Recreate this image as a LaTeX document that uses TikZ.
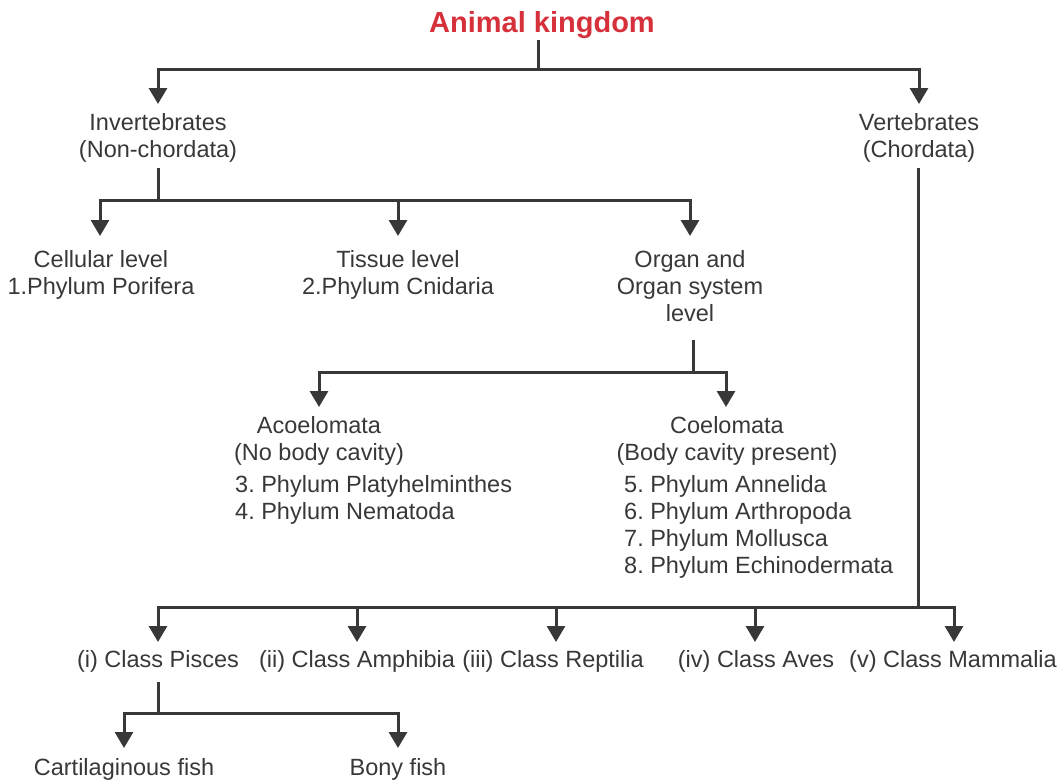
\documentclass[tikz,border=0pt]{standalone}
\usepackage{fontspec}
\setmainfont{Liberation Sans}
\usetikzlibrary{arrows.meta}
\frenchspacing
\definecolor{ink}{HTML}{383838}
\definecolor{titlered}{HTML}{D6303B}
\newcommand{\ctr}[1]{\begin{tabular}[t]{@{}c@{}}#1\end{tabular}}
\newcommand{\lft}[1]{\begin{tabular}[t]{@{}l@{}}#1\end{tabular}}
\tikzset{
  txt/.style={inner sep=0pt, text=ink, anchor=base, font=\fontsize{23.5}{27}\selectfont},
  lst/.style={inner sep=0pt, text=ink, anchor=base west, font=\fontsize{23.5}{27}\selectfont},
  ttl/.style={inner sep=0pt, text=titlered, anchor=base, font=\fontsize{29}{33}\selectfont\bfseries},
  ln/.style={draw=ink, line width=3pt},
  arr/.style={draw=ink, line width=3pt, -{Triangle[width=18pt,length=16pt]}}
}
\begin{document}
\begin{tikzpicture}[x=1pt,y=-1pt]
\useasboundingbox (0,0) rectangle (1061,782);
% title
\node[ttl] (title) at (542,32) {Animal kingdom};
\coordinate (s0) at (538,40);
\coordinate (j0) at (538,69);
\coordinate (tInv) at (158,104);
\coordinate (tVer) at (919,104);
\draw[ln] (s0) -- (j0);
\draw[arr] (j0) -| (tInv);
\draw[arr] (j0) -| (tVer);
% level 1
\node[txt] (inv) at (158,130) {\ctr{Invertebrates\\(Non-chordata)}};
\node[txt] (ver) at (919,130) {\ctr{Vertebrates\\(Chordata)}};
% invertebrate branch
\coordinate (s1) at (158,168);
\coordinate (j1) at (158,200);
\coordinate (tCel) at (100,236);
\coordinate (tTis) at (398,236);
\coordinate (tOrg) at (690,236);
\draw[ln] (s1) -- (j1);
\draw[arr] (j1) -| (tCel);
\draw[arr] (j1) -| (tTis);
\draw[arr] (j1) -| (tOrg);
\node[txt] (cel) at (101,267) {\ctr{Cellular level\\1.Phylum Porifera}};
\node[txt] (tis) at (398,267) {\ctr{Tissue level\\2.Phylum Cnidaria}};
\node[txt] (org) at (690,267) {\ctr{Organ and\\Organ system\\level}};
% organ branch
\coordinate (s2) at (693,340);
\coordinate (j2) at (693,372);
\coordinate (tAco) at (319,407);
\coordinate (tCoe) at (726,407);
\draw[ln] (s2) -- (j2);
\draw[arr] (j2) -| (tAco);
\draw[arr] (j2) -| (tCoe);
\node[txt] (aco) at (319,433) {\ctr{Acoelomata\\(No body cavity)}};
\node[lst] (acol) at (235,492) {\lft{3. Phylum Platyhelminthes\\4. Phylum Nematoda}};
\node[txt] (coe) at (727,433) {\ctr{Coelomata\\(Body cavity present)}};
\node[lst] (coel) at (624,492) {\lft{5. Phylum Annelida\\6. Phylum Arthropoda\\7. Phylum Mollusca\\8. Phylum Echinodermata}};
% vertebrate branch
\coordinate (s3) at (918,168);
\coordinate (j3) at (918,607);
\coordinate (tPis) at (158,642);
\coordinate (tAmp) at (357,642);
\coordinate (tRep) at (556,642);
\coordinate (tAve) at (755,642);
\coordinate (tMam) at (954,642);
\draw[ln] (s3) -- (j3);
\draw[arr] (j3) -| (tPis);
\draw[arr] (j3) -| (tAmp);
\draw[arr] (j3) -| (tRep);
\draw[arr] (j3) -| (tAve);
\draw[arr] (j3) -| (tMam);
\node[txt] (pis) at (158,667) {(i) Class Pisces};
\node[txt] (amp) at (357,667) {(ii) Class Amphibia};
\node[txt] (rep) at (553,667) {(iii) Class Reptilia};
\node[txt] (ave) at (756,667) {(iv) Class Aves};
\node[txt] (mam) at (953,667) {(v) Class Mammalia};
% pisces branch
\coordinate (s4) at (158,682);
\coordinate (j4) at (158,713);
\coordinate (tCar) at (124,748);
\coordinate (tBon) at (398,748);
\draw[ln] (s4) -- (j4);
\draw[arr] (j4) -| (tCar);
\draw[arr] (j4) -| (tBon);
\node[txt] (car) at (124,775) {Cartilaginous fish};
\node[txt] (bon) at (398,775) {Bony fish};
\end{tikzpicture}
\end{document}
